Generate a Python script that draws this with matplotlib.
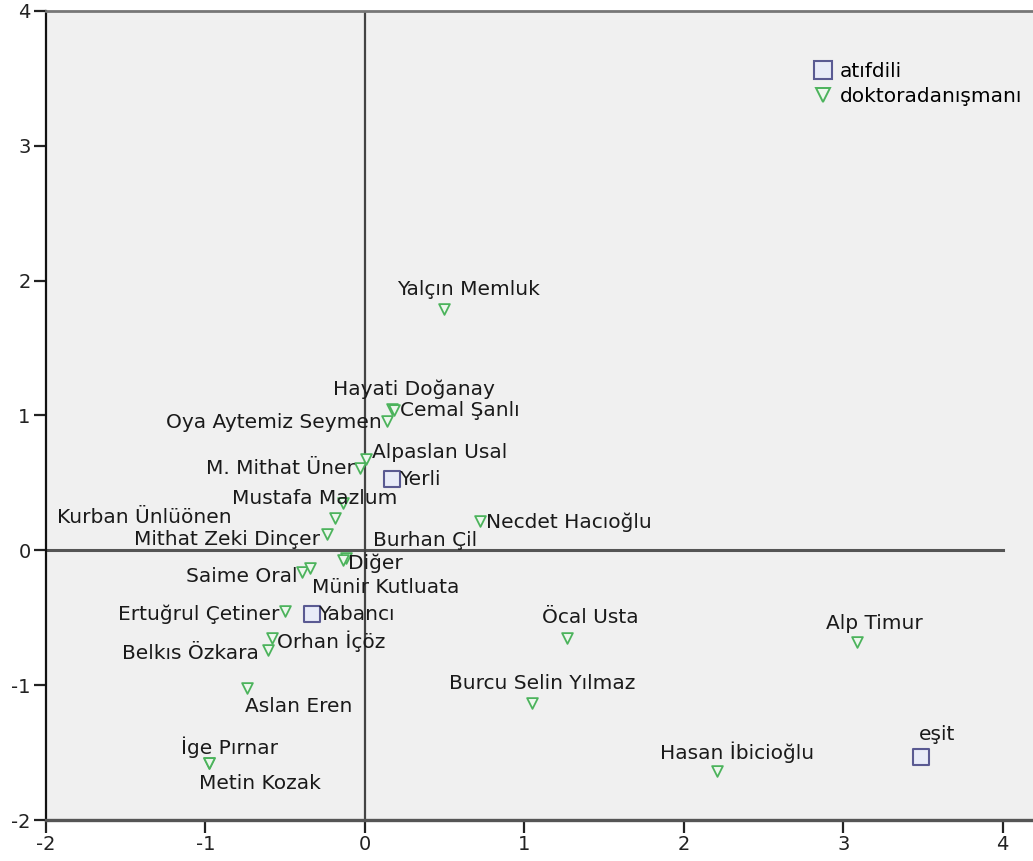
import matplotlib
matplotlib.use("Agg")
import matplotlib.pyplot as plt
from matplotlib.lines import Line2D

# Category points of the correspondence analysis
advisor_names = [
    "Yalçın Memluk", "Hayati Doğanay", "Cemal Şanlı", "Oya Aytemiz Seymen",
    "Alpaslan Usal", "M. Mithat Üner", "Mustafa Mazlum", "Kurban Ünlüönen",
    "Mithat Zeki Dinçer", "Burhan Çil", "Diğer", "Necdet Hacıoğlu",
    "Saime Oral", "Münir Kutluata", "Ertuğrul Çetiner", "Orhan İçöz",
    "Belkıs Özkara", "Aslan Eren", "İge Pırnar", "Metin Kozak",
    "Öcal Usta", "Burcu Selin Yılmaz", "Alp Timur", "Hasan İbicioğlu",
]
advisor_dim1 = [0.495, 0.17, 0.18, 0.14, 0.01, -0.03, -0.14, -0.19,
                -0.24, -0.12, -0.14, 0.72, -0.395, -0.345, -0.50, -0.58,
                -0.61, -0.74, -0.98, -0.98, 1.27, 1.05, 3.085, 2.21]
advisor_dim2 = [1.79, 1.05, 1.04, 0.96, 0.68, 0.61, 0.35, 0.24,
                0.12, -0.06, -0.07, 0.22, -0.16, -0.13, -0.45, -0.65,
                -0.74, -1.02, -1.58, -1.58, -0.65, -1.13, -0.68, -1.64]

language_names = ["Yerli", "Yabancı", "eşit"]
language_dim1 = [0.17, -0.33, 3.49]
language_dim2 = [0.53, -0.47, -1.53]

# Label placement: (dx, dy) in pixels from the marker, horizontal alignment
advisor_label_pos = [
    ((25, 19), "center"), ((22, 20), "center"), ((6, 0), "left"), ((-5, -2), "right"),
    ((6, 6), "left"), ((-5, 0), "right"), ((-28, 5), "center"), ((-103, 0), "right"),
    ((-7, -5), "right"), ((27, 18), "left"), ((5, -3), "left"), ((6, -2), "left"),
    ((-4, -5), "right"), ((2, -20), "left"), ((-6, -3), "right"), ((5, -3), "left"),
    ((-9, -3), "right"), ((-2, -19), "left"), ((21, 16), "center"), ((-10, -20), "left"),
    ((23, 20), "center"), ((10, 19), "center"), ((18, 19), "center"), ((20, 19), "center"),
]
language_label_pos = [((7, -1), "left"), ((6, -1), "left"), ((16, 22), "center")]

DPI = 100
W, H = 1033, 861
PT = 72.0 / DPI

plt.rcParams["font.family"] = ["DejaVu Sans"]
fig = plt.figure(figsize=(W / DPI, H / DPI), dpi=DPI)
fig.patch.set_facecolor("white")

left_px, right_px, top_px, bottom_px = 46, 1033, 11, 820
ax = fig.add_axes([left_px / W, (H - bottom_px) / H,
                   (right_px - left_px) / W, (bottom_px - top_px) / H])
ax.set_facecolor("#f0f0f0")
ax.set_xlim(-2, 4.19)
ax.set_ylim(-2, 4)

# Reference lines through the origin
ax.plot([-2, 4.0], [0, 0], color="#555555", lw=2.2, zorder=1)
ax.axvline(0, color="#444444", lw=1.6, zorder=1)

green_edge = "#4cb35c"
green_face = "#eef7ee"
blue_edge = "#5a5a92"
blue_face = "#e8ebf8"

ax.scatter(advisor_dim1, advisor_dim2, marker="v", s=60,
           facecolor=green_face, edgecolor=green_edge, linewidths=1.3, zorder=3)
ax.scatter(language_dim1, language_dim2, marker="s", s=120,
           facecolor=blue_face, edgecolor=blue_edge, linewidths=1.5, zorder=3)

label_size = 14.5
for name, x, y, ((dx, dy), ha) in zip(advisor_names, advisor_dim1, advisor_dim2, advisor_label_pos):
    ax.annotate(name, (x, y), xytext=(dx * PT, dy * PT), textcoords="offset points",
                ha=ha, va="center", fontsize=label_size, color="#1a1a1a", zorder=4)
for name, x, y, ((dx, dy), ha) in zip(language_names, language_dim1, language_dim2, language_label_pos):
    ax.annotate(name, (x, y), xytext=(dx * PT, dy * PT), textcoords="offset points",
                ha=ha, va="center", fontsize=label_size, color="#1a1a1a", zorder=4)

ax.set_xticks([-2, -1, 0, 1, 2, 3, 4])
ax.set_yticks([-2, -1, 0, 1, 2, 3, 4])
ax.set_xticklabels(["-2", "-1", "0", "1", "2", "3", "4"])
ax.set_yticklabels(["-2", "-1", "0", "1", "2", "3", "4"])
ax.tick_params(axis="both", direction="out", length=9, width=1.6,
               labelsize=14, color="#222222", labelcolor="#222222", pad=2)

ax.spines["left"].set_color("#111111")
ax.spines["left"].set_linewidth(1.6)
ax.spines["bottom"].set_color("#555555")
ax.spines["bottom"].set_linewidth(2.4)
ax.spines["top"].set_color("#777777")
ax.spines["top"].set_linewidth(2.0)
ax.spines["right"].set_visible(False)

handles = [
    Line2D([], [], marker="s", linestyle="none", markersize=13,
           markerfacecolor=blue_face, markeredgecolor=blue_edge, markeredgewidth=1.5),
    Line2D([], [], marker="v", linestyle="none", markersize=10,
           markerfacecolor=green_face, markeredgecolor=green_edge, markeredgewidth=1.4),
]
ax.legend(handles, ["atıfdili", "doktoradanışmanı"], loc="upper left",
          bbox_to_anchor=((814 - left_px) / (right_px - left_px), (bottom_px - 62) / (bottom_px - top_px)),
          frameon=False, fontsize=14.5, handlelength=0.9, handletextpad=0.4,
          labelspacing=0.32, borderpad=0, borderaxespad=0)

fig.savefig("out.png", dpi=DPI, facecolor="white")
